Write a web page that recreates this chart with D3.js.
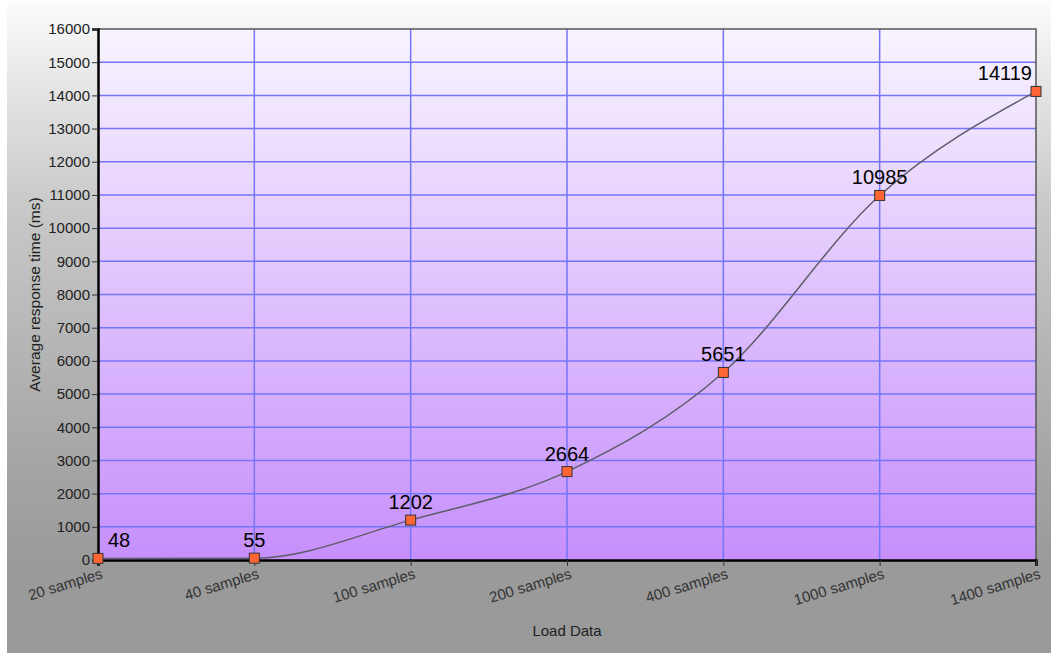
<!DOCTYPE html>
<html><head><meta charset="utf-8">
<script src="https://cdn.jsdelivr.net/npm/d3@7"></script>
<style>body{margin:0;background:#fff}svg{display:block}</style>
</head><body><svg id="c" width="1051" height="653"></svg>
<script>
const categories = ["20 samples","40 samples","100 samples","200 samples","400 samples","1000 samples","1400 samples"];
const values = [48,55,1202,2664,5651,10985,14119];
const yTicks = [0,1000,2000,3000,4000,5000,6000,7000,8000,9000,10000,11000,12000,13000,14000,15000,16000];
const xTitle = "Load Data";
const yTitle = "Average response time (ms)";

const svg = d3.select("#c");
const W = 1051, H = 653;
const m = {l:98, r:15, t:29, b:93};
const x = d3.scalePoint().domain(categories).range([m.l, W - m.r]);
const y = d3.scaleLinear().domain([0,16000]).range([H - m.b, m.t]);

const defs = svg.append("defs");
const bg = defs.append("linearGradient").attr("id","bg").attr("x1",0).attr("y1",0).attr("x2",0).attr("y2",1);
[[0,"#fbfbfb"],[0.15,"#e2e2e2"],[0.32,"#c8c8c8"],[0.7,"#a6a6a6"],[0.86,"#9a9a9a"],[1,"#9a9a9a"]].forEach(s=>bg.append("stop").attr("offset",s[0]).attr("stop-color",s[1]));
const pg = defs.append("linearGradient").attr("id","pg").attr("x1",0).attr("y1",0).attr("x2",0).attr("y2",1);
[[0,"#f8f4ff"],[1,"#c68ffb"]].forEach(s=>pg.append("stop").attr("offset",s[0]).attr("stop-color",s[1]));

svg.append("rect").attr("x",7).attr("y",2).attr("width",W-7).attr("height",H-2).attr("fill","url(#bg)");

const x0 = x.range()[0], x1 = x.range()[1], yT = y(16000), yB = y(0);
svg.append("rect").attr("x",x0).attr("y",yT).attr("width",x1-x0).attr("height",yB-yT).attr("fill","url(#pg)");

// grid
svg.append("g").selectAll("line").data(yTicks.filter(d=>d>0 && d<16000)).join("line")
  .attr("x1",x0).attr("x2",x1).attr("y1",d=>y(d)).attr("y2",d=>y(d))
  .attr("stroke","#7575fa").attr("stroke-width",1.5);
svg.append("g").selectAll("line").data(categories.slice(1,-1)).join("line")
  .attr("x1",d=>x(d)).attr("x2",d=>x(d)).attr("y1",yT).attr("y2",yB)
  .attr("stroke","#7575fa").attr("stroke-width",1.5);

// top/right border
svg.append("path").attr("d",`M${x0},${yT}H${x1}V${yB}`).attr("fill","none").attr("stroke","#555").attr("stroke-width",1.5);

const FONT = "Liberation Sans, Arial, sans-serif";
// axes
const yAxis = d3.axisLeft(y).tickValues(yTicks).tickSize(6).tickPadding(2).tickFormat(d3.format("d"));
const ga = svg.append("g").attr("transform",`translate(${x0},0)`).call(yAxis);
ga.select(".domain").attr("stroke","#000").attr("stroke-width",2.5);
ga.selectAll(".tick line").attr("stroke","#333");
ga.selectAll("text").attr("font-family",FONT).attr("font-size","15px").attr("fill","#222");

const xAxis = d3.axisBottom(x).tickSize(6).tickPadding(4);
const gx = svg.append("g").attr("transform",`translate(0,${yB})`).call(xAxis);
gx.select(".domain").attr("stroke","#000").attr("stroke-width",2.5);
gx.selectAll(".tick line").attr("stroke","#333");
gx.selectAll("text").attr("font-family",FONT).attr("font-size","15px").attr("fill","#333")
  .attr("text-anchor","end").attr("dy","0").attr("y",0)
  .attr("transform","translate(5,18) rotate(-17)");

// titles
svg.append("text").attr("x",(x0+x1)/2).attr("y",636).attr("text-anchor","middle")
  .attr("font-family",FONT).attr("font-size","15px").attr("fill","#222").text(xTitle);
svg.append("text").attr("transform",`translate(40,${(yT+yB)/2}) rotate(-90)`).attr("text-anchor","middle")
  .attr("font-family",FONT).attr("font-size","15.5px").attr("fill","#222").text(yTitle);

// line
const data = categories.map((c,i)=>({c, v:values[i]}));
svg.append("path").datum(data)
  .attr("d", d3.line().x(d=>x(d.c)).y(d=>y(d.v)).curve(d3.curveMonotoneX))
  .attr("fill","none").attr("stroke","#5e5e6a").attr("stroke-width",1.5);

// markers
svg.append("g").selectAll("rect").data(data).join("rect")
  .attr("x",d=>x(d.c)-5).attr("y",d=>y(d.v)-5).attr("width",10).attr("height",10)
  .attr("fill","#ff6633").attr("stroke","#333").attr("stroke-width",1);

// labels
svg.append("g").selectAll("text").data(data).join("text")
  .attr("x",(d,i)=> i===0 ? x(d.c)+10 : i===data.length-1 ? x(d.c)-4 : x(d.c))
  .attr("y",d=>y(d.v)-11)
  .attr("text-anchor",(d,i)=> i===0 ? "start" : i===data.length-1 ? "end" : "middle")
  .attr("font-family",FONT).attr("font-size","20px").attr("fill","#000")
  .text(d=>d.v);
</script></body></html>
